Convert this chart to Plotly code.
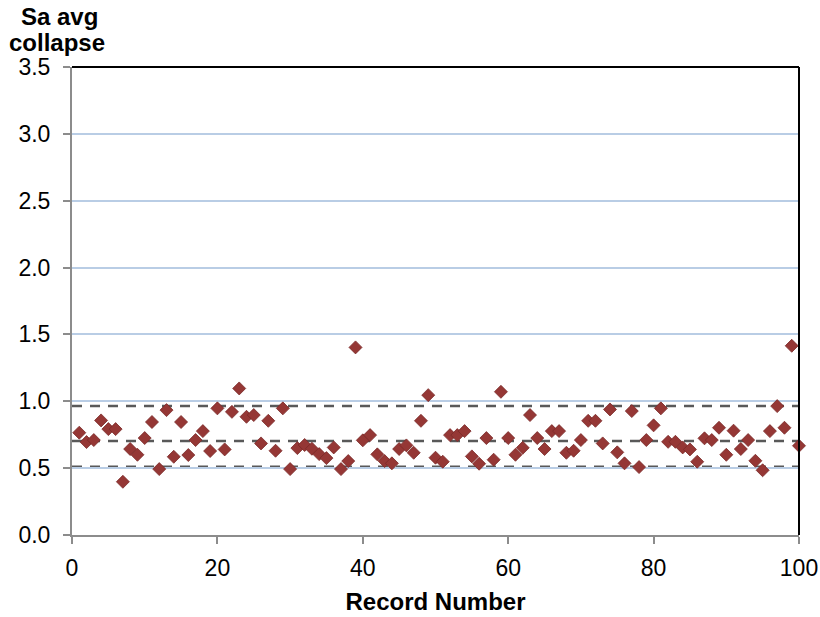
import plotly.graph_objects as go

record = list(range(1, 101))
sa_avg_collapse = [
    0.765, 0.695, 0.71, 0.857, 0.792, 0.792, 0.398, 0.643, 0.60, 0.725,
    0.845, 0.493, 0.934, 0.585, 0.845, 0.598, 0.71, 0.777, 0.628, 0.947,
    0.64, 0.921, 1.096, 0.884, 0.897, 0.685, 0.854, 0.63, 0.947, 0.493,
    0.65, 0.673, 0.645, 0.605, 0.575, 0.655, 0.493, 0.553, 1.403, 0.708,
    0.747, 0.603, 0.553, 0.536, 0.643, 0.67, 0.615, 0.854, 1.046, 0.578,
    0.548, 0.747, 0.747, 0.777, 0.588, 0.533, 0.725, 0.563, 1.071, 0.725,
    0.60, 0.652, 0.897, 0.725, 0.643, 0.777, 0.777, 0.615, 0.63, 0.71,
    0.854, 0.854, 0.685, 0.939, 0.618, 0.536, 0.927, 0.508, 0.71, 0.82,
    0.947, 0.697, 0.697, 0.655, 0.64, 0.548, 0.723, 0.71, 0.802, 0.60,
    0.78, 0.643, 0.71, 0.555, 0.484, 0.777, 0.964, 0.802, 1.415, 0.667,
]
ref_lines = [0.965, 0.703, 0.51]   # median and +/- one dispersion
y_ticks = [0.0, 0.5, 1.0, 1.5, 2.0, 2.5, 3.0, 3.5]
x_ticks = [0, 20, 40, 60, 80, 100]
y_title_lines = ["Sa avg", "collapse"]
x_title = "Record Number"

FONT = "Liberation Sans, Arial, Helvetica, sans-serif"

fig = go.Figure()
fig.add_trace(go.Scatter(
    x=record, y=sa_avg_collapse, mode="markers",
    marker=dict(symbol="diamond", size=10, color="#953735",
                line=dict(color="#7a2a28", width=0.8)),
    cliponaxis=False, showlegend=False,
))

shapes = []
for v in ref_lines:
    shapes.append(dict(type="line", xref="paper", yref="y", x0=0, x1=1, y0=v, y1=v,
                       line=dict(color="#595959", width=2.5, dash="10px,8px"), layer="below"))
shapes.append(dict(type="line", xref="paper", yref="paper", x0=0, x1=1, y0=1, y1=1,
                   line=dict(color="#000000", width=2)))
shapes.append(dict(type="line", xref="paper", yref="paper", x0=1, x1=1, y0=0, y1=1,
                   line=dict(color="#000000", width=2)))

fig.update_layout(
    width=820, height=617,
    margin=dict(l=72, r=21, t=67, b=82),
    paper_bgcolor="white", plot_bgcolor="white",
    font=dict(family=FONT, size=23, color="#000000"),
    shapes=shapes,
    xaxis=dict(range=[0, 100], tickvals=x_ticks, ticktext=[str(t) for t in x_ticks],
               automargin=False,
               showgrid=False, zeroline=False, showline=True, linecolor="#8c8c8c", linewidth=2,
               ticks="outside", ticklen=7, tickwidth=2, tickcolor="#8c8c8c",
               ticklabelstandoff=4,
               tickfont=dict(size=23),
               title=dict(text=f"<b>{x_title}</b>", font=dict(size=24), standoff=14)),
    yaxis=dict(range=[0, 3.5], tickvals=y_ticks, ticktext=[f"{t:.1f}" for t in y_ticks],
               automargin=False,
               showgrid=True, gridcolor="#b9cde5", gridwidth=1.5,
               zeroline=False, showline=True, linecolor="#8c8c8c", linewidth=2,
               ticks="outside", ticklen=7, tickwidth=2, tickcolor="#8c8c8c",
               ticklabelstandoff=8,
               tickfont=dict(size=23)),
    annotations=[
        dict(text=f"<b>{y_title_lines[0]}</b>", xref="paper", yref="paper",
             x=-0.017, y=1.0, xanchor="center", yanchor="bottom", yshift=35,
             showarrow=False, font=dict(size=24)),
        dict(text=f"<b>{y_title_lines[1]}</b>", xref="paper", yref="paper",
             x=-0.02, y=1.0, xanchor="center", yanchor="bottom", yshift=9,
             showarrow=False, font=dict(size=24)),
    ],
)

fig.write_html("out.html", config={"displayModeBar": False},
               post_script="document.body.style.margin='0';document.body.style.overflow='hidden';")
